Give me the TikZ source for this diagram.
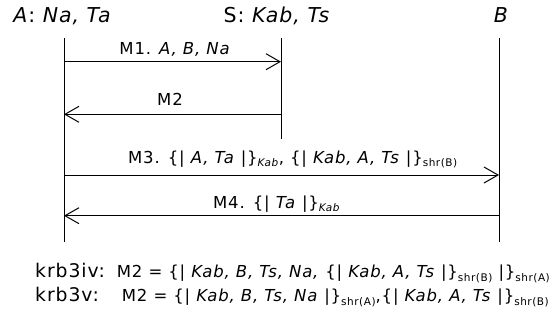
\documentclass[tikz,border=0pt]{standalone}
\usepackage{fontspec}
\setmainfont{DejaVu Sans}[LetterSpace=5]
\usetikzlibrary{arrows.meta}
\newcommand\sbs[1]{\raisebox{-0.2em}{\fontsize{10.5}{12}\selectfont #1}}
\newcommand\ivar[1]{\textit{#1}}
\begin{document}
\begin{tikzpicture}[x=1pt,y=-1pt,
  lifeline/.style={line width=1pt},
  msg/.style={line width=1pt,-{Straight Barb[length=14pt,width=16pt,line width=1pt]}},
  hdr/.style={anchor=base,inner sep=0pt,font=\fontsize{20.5}{24}\selectfont},
  lbl/.style={anchor=base,inner sep=0pt,font=\fontsize{16.5}{20}\selectfont},
  eqlbl/.style={anchor=base west,inner sep=0pt,font=\fontsize{18.8}{22}\selectfont},
  eqtxt/.style={anchor=base west,inner sep=0pt,font=\fontsize{16.5}{20}\selectfont}]
\useasboundingbox (0,0) rectangle (555,325);
% headers
\node[hdr] (hA) at (62.5,22.7) {\ivar{A}: \ivar{Na, Ta}};
\node[hdr] (hS) at (277,22.7) {S: \ivar{Kab, Ts}};
\node[hdr] (hB) at (501.5,22.7) {\ivar{B}};
% lifelines
\coordinate (At) at (64,38);  \coordinate (Ab) at (64,241.5);
\coordinate (St) at (281,38); \coordinate (Sb) at (281,138.5);
\coordinate (Bt) at (499,38); \coordinate (Bb) at (499,241.5);
\draw[lifeline] (At) -- (Ab);
\draw[lifeline] (St) -- (Sb);
\draw[lifeline] (Bt) -- (Bb);
% messages
\coordinate (A1) at (64,61.7);  \coordinate (S1) at (281,61.7);
\coordinate (A2) at (64,114.3); \coordinate (S2) at (281,114.3);
\coordinate (A3) at (64,175);   \coordinate (B3) at (499,175);
\coordinate (A4) at (64,215.7); \coordinate (B4) at (499,215.7);
\draw[msg] (A1) -- (S1);
\draw[msg] (S2) -- (A2);
\draw[msg] (A3) -- (B3);
\draw[msg] (B4) -- (A4);
\node[lbl] (m1) at (175,54.3) {M1. \ivar{A, B, Na}};
\node[lbl] (m2) at (170,105.7) {M2};
\node[lbl,anchor=base west] (m3) at (128,163.3) {M3. \{| \ivar{A, Ta} |\}\sbs{\ivar{Kab}}, \{| \ivar{Kab, A, Ts} |\}\sbs{shr(B)}};
\node[lbl,anchor=base west] (m4) at (213,208.3) {M4. \{| \ivar{Ta} |\}\sbs{\ivar{Kab}}};
% bottom
\node[eqlbl] (k1) at (35,277.7) {krb3iv:};
\node[eqtxt] (e1) at (116.7,277.7) {M2 = \{| \ivar{Kab, B, Ts, Na,} \{| \ivar{Kab, A, Ts} |\}\sbs{shr(B)} |\}\sbs{shr(A)}};
\node[eqlbl] (k2) at (35,301.7) {krb3v:};
\node[eqtxt] (e2) at (121.7,301.7) {M2 = \{| \ivar{Kab, B, Ts, Na} |\}\sbs{shr(A)},\{| \ivar{Kab, A, Ts} |\}\sbs{shr(B)}};
\end{tikzpicture}
\end{document}
